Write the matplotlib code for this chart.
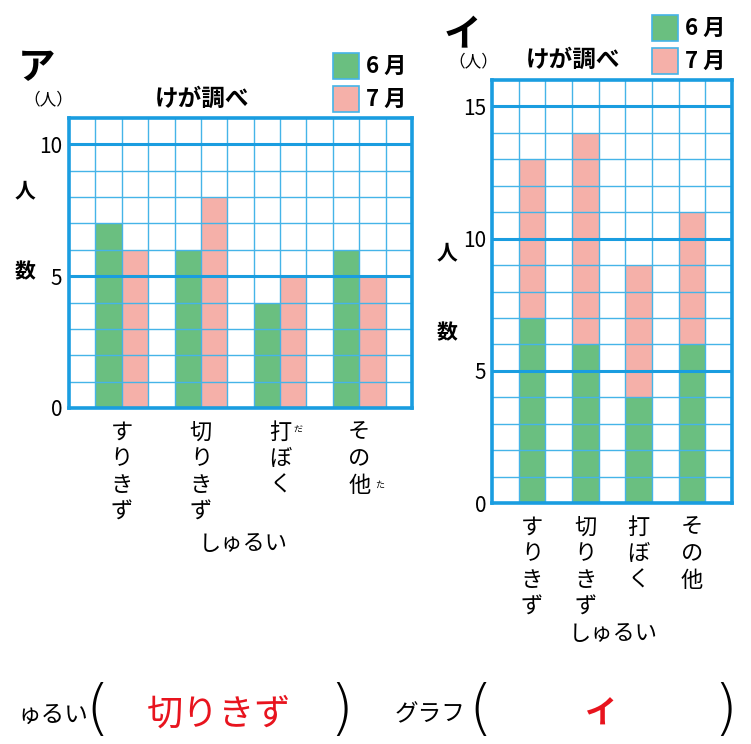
import matplotlib
matplotlib.use("Agg")
import matplotlib.pyplot as plt
from matplotlib.patches import Rectangle

plt.rcParams['font.family'] = ['Noto Sans CJK JP', 'DejaVu Sans']

# ---- data ----
categories = ["すりきず", "切りきず", "打ぼく", "その他"]
june = [7, 6, 4, 6]
july = [6, 8, 5, 5]
left_yticks = [0, 5, 10]
right_yticks = [0, 5, 10, 15]
legend_labels = ["6 月", "7 月"]

GREEN = "#6abf80"
PINK = "#f5b0a9"
THIN = "#45b4e8"
THICK = "#1a9de0"

W, H = 751, 744
fig = plt.figure(figsize=(W / 100, H / 100), dpi=100)


def fx(x):
    return x / W


def fy(y):
    return 1 - y / H


def vert(s):
    return "\n".join(s)


def grid(ax, nx, ny, major):
    for i in range(1, nx):
        ax.axvline(i, color=THIN, lw=1.0, zorder=3)
    for j in range(1, ny):
        if j % major == 0:
            ax.axhline(j, color=THICK, lw=2.2, zorder=4)
        else:
            ax.axhline(j, color=THIN, lw=1.0, zorder=3)
    for sp in ax.spines.values():
        sp.set_color(THICK)
        sp.set_linewidth(2.6)
        sp.set_zorder(5)


def style_ticks(ax, yt, pad):
    ax.set_yticks(yt)
    ax.set_yticklabels([str(v) for v in yt], fontsize=15)
    ax.tick_params(axis='y', length=0, pad=pad)
    ax.tick_params(axis='x', length=0, pad=9)
    for lab in ax.get_xticklabels():
        lab.set_fontsize(16)
        lab.set_verticalalignment('top')
        lab.set_linespacing(1.2)


# ---- left chart ア (grouped) ----
axL = fig.add_axes([fx(69), fy(408), fx(412) - fx(69), fy(118) - fy(408)])
axL.set_xlim(0, 13)
axL.set_ylim(0, 11)
centers_L = [2 + 3 * i for i in range(len(categories))]
axL.bar([c - 0.5 for c in centers_L], june, width=1, color=GREEN, zorder=2)
axL.bar([c + 0.5 for c in centers_L], july, width=1, color=PINK, zorder=2)
grid(axL, 13, 11, 5)
axL.set_xticks(centers_L)
axL.set_xticklabels([vert(c) for c in categories])
style_ticks(axL, left_yticks, 5)

# ---- right chart イ (stacked) ----
axR = fig.add_axes([fx(492), fy(503), fx(732) - fx(492), fy(80) - fy(503)])
axR.set_xlim(0, 9)
axR.set_ylim(0, 16)
centers_R = [1.5 + 2 * i for i in range(len(categories))]
axR.bar(centers_R, june, width=1, color=GREEN, zorder=2)
axR.bar(centers_R, july, width=1, bottom=june, color=PINK, zorder=2)
grid(axR, 9, 16, 5)
axR.set_xticks(centers_R)
axR.set_xticklabels([vert(c) for c in categories])
style_ticks(axR, right_yticks, 4)

# ---- titles, legends, labels ----
def legend(x, y1, y2):
    for yy, col, lab in [(y1, GREEN, legend_labels[0]), (y2, PINK, legend_labels[1])]:
        fig.add_artist(Rectangle((fx(x), fy(yy + 26)), 26 / W, 26 / H,
                                 transform=fig.transFigure, facecolor=col,
                                 edgecolor=THIN, lw=1.2))
        fig.text(fx(x + 33), fy(yy + 13), lab, fontsize=16, fontweight='bold',
                 va='center', ha='left')


fig.text(fx(18), fy(68), "ア", fontsize=27, fontweight='bold', va='center', ha='left')
fig.text(fx(23), fy(100), "（人）", fontsize=12, va='center', ha='left')
fig.text(fx(202), fy(99), "けが調べ", fontsize=17, fontweight='bold', va='center', ha='center')
legend(333, 53, 86)
fig.text(fx(25), fy(191), "人", fontsize=15, fontweight='bold', va='center', ha='center')
fig.text(fx(25), fy(272), "数", fontsize=15, fontweight='bold', va='center', ha='center')
fig.text(fx(298), fy(429), "だ", fontsize=6.5, va='center', ha='center')
fig.text(fx(380), fy(485), "た", fontsize=6.5, va='center', ha='center')
fig.text(fx(243), fy(543), "しゅるい", fontsize=16, va='center', ha='center')

fig.text(fx(444), fy(35), "イ", fontsize=27, fontweight='bold', va='center', ha='left')
fig.text(fx(448), fy(62), "（人）", fontsize=12, va='center', ha='left')
fig.text(fx(573), fy(60), "けが調べ", fontsize=17, fontweight='bold', va='center', ha='center')
legend(652, 15, 48)
fig.text(fx(447), fy(253), "人", fontsize=15, fontweight='bold', va='center', ha='center')
fig.text(fx(447), fy(333), "数", fontsize=15, fontweight='bold', va='center', ha='center')
fig.text(fx(613), fy(633), "しゅるい", fontsize=16, va='center', ha='center')

# ---- answer row ----
fig.text(fx(88), fy(715), "ゅるい", fontsize=17, va='center', ha='right')
fig.text(fx(465), fy(715), "グラフ", fontsize=17, va='center', ha='right')
for x in [97, 480]:
    fig.text(fx(x), fy(711), "(", fontsize=44, va='center', ha='center',
             family='DejaVu Sans', fontweight='ultralight')
for x in [341, 725]:
    fig.text(fx(x), fy(711), ")", fontsize=44, va='center', ha='center',
             family='DejaVu Sans', fontweight='ultralight')
fig.text(fx(219), fy(715), "切りきず", fontsize=26, color='#e8141e', va='center', ha='center')
fig.text(fx(601), fy(715), "イ", fontsize=23, color='#e8141e', fontweight='bold',
         va='center', ha='center')

fig.savefig("out.png", dpi=100)
